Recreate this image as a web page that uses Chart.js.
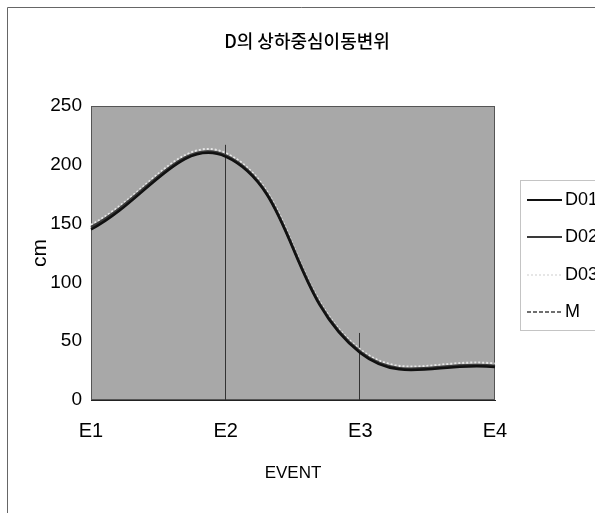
<!DOCTYPE html>
<html>
<head>
<meta charset="utf-8">
<script src="https://cdn.jsdelivr.net/npm/chart.js@4/dist/chart.umd.min.js"></script>
<style>
  html, body { margin: 0; padding: 0; background: #ffffff; }
  #wrap { width: 595px; height: 513px; position: relative; }
</style>
</head>
<body>
<div id="wrap"><canvas id="c" width="595" height="513"></canvas></div>
<script>
// ---- data ----
const chartTitle = 'D의 상하중심이동변위';
const categories = ['E1', 'E2', 'E3', 'E4'];
const seriesNames = ['D01', 'D02', 'D03', 'M'];
const d01 = [145, 207, 40, 28];
const d02 = [147, 208, 41, 29];
const d03 = [149, 210, 43, 31];
const mVals = [146, 208, 41, 29];
// tops of the vertical drop lines at E2 and E3
const dropLineTops = [null, 217, 57, null];
const yMin = 0, yMax = 250, yStep = 50;
const xTitle = 'EVENT';
const yTitle = 'cm';

const sans = '"Liberation Sans", Arial, sans-serif';

const styles = [
  { color: '#111111', dash: [], width: 2.5 },
  { color: '#3a3a3a', dash: [], width: 2.5 },
  { color: '#e6e6e6', dash: [2, 2], width: 2 },
  { color: '#6f6f6f', dash: [4, 2], width: 2 }
];
const allSeries = [d01, d02, d03, mVals];

const bgPlugin = {
  id: 'bg',
  beforeDraw(chart) {
    const { ctx, chartArea: a } = chart;
    ctx.save();
    ctx.strokeStyle = '#666666';
    ctx.lineWidth = 1;
    ctx.beginPath();
    ctx.moveTo(7.5, 513); ctx.lineTo(7.5, 7.5); ctx.lineTo(595, 7.5);
    ctx.stroke();
    ctx.fillStyle = '#a8a8a8';
    ctx.fillRect(a.left, a.top, a.right - a.left, a.bottom - a.top);
    ctx.strokeStyle = '#555555';
    ctx.strokeRect(a.left + 0.5, a.top + 0.5, a.right - a.left - 1, a.bottom - a.top - 1);
    ctx.restore();
  },
  beforeDatasetsDraw(chart) {
    const { ctx, scales: { x, y } } = chart;
    ctx.save();
    ctx.strokeStyle = '#333333';
    ctx.lineWidth = 1;
    dropLineTops.forEach((top, i) => {
      if (top === null) return;
      const px = Math.round(x.getPixelForValue(i)) - 0.5;
      ctx.beginPath();
      ctx.moveTo(px, y.getPixelForValue(top));
      ctx.lineTo(px, y.getPixelForValue(yMin));
      ctx.stroke();
    });
    ctx.restore();
  },
  afterDraw(chart) {
    const { ctx } = chart;
    ctx.save();
    ctx.fillStyle = '#000';
    ctx.font = '500 18px "Noto Sans CJK KR", sans-serif';
    ctx.textAlign = 'center';
    ctx.textBaseline = 'middle';
    ctx.fillText(chartTitle, 307, 41);
    ctx.strokeStyle = '#888888';
    ctx.lineWidth = 1;
    ctx.setLineDash([1, 1]);
    ctx.strokeRect(520.5, 180.5, 80, 150);
    ctx.setLineDash([]);
    const ys = [200, 237, 275, 312];
    chart.data.datasets.forEach((ds, i) => {
      ctx.strokeStyle = ds.borderColor;
      ctx.lineWidth = 2;
      ctx.setLineDash(ds.borderDash || []);
      ctx.beginPath();
      ctx.moveTo(527, ys[i]);
      ctx.lineTo(562, ys[i]);
      ctx.stroke();
      ctx.setLineDash([]);
      ctx.fillStyle = '#000';
      ctx.font = '18px ' + sans;
      ctx.textAlign = 'left';
      ctx.fillText(ds.label, 565, ys[i]);
    });
    ctx.restore();
  }
};

new Chart(document.getElementById('c'), {
  type: 'line',
  data: {
    labels: categories,
    datasets: allSeries.map((s, i) => ({
      label: seriesNames[i],
      data: s,
      borderColor: styles[i].color,
      borderDash: styles[i].dash,
      borderWidth: styles[i].width,
      pointRadius: 0,
      tension: 0.42,
      fill: false
    }))
  },
  options: {
    responsive: false,
    devicePixelRatio: 1,
    animation: false,
    layout: { padding: { top: 106, right: 100, left: 0, bottom: 0 } },
    plugins: {
      legend: { display: false },
      title: { display: false },
      tooltip: { enabled: false }
    },
    scales: {
      x: {
        type: 'category',
        offset: false,
        grid: { display: false, drawTicks: false },
        border: { display: true, color: '#222222', width: 1 },
        ticks: { color: '#000', font: { family: sans, size: 20 }, padding: 19, maxRotation: 0 },
        title: { display: true, text: xTitle, color: '#000', font: { family: sans, size: 17 }, padding: { top: 0, bottom: 29 } },
        afterFit(scale) { scale.height = 113; }
      },
      y: {
        min: yMin, max: yMax,
        grid: { display: false, drawTicks: false },
        border: { display: false },
        ticks: { stepSize: yStep, color: '#000', font: { family: sans, size: 19 }, padding: 9 },
        title: { display: true, text: yTitle, color: '#000', font: { family: sans, size: 21 }, padding: { top: 28, bottom: 0 } },
        afterFit(scale) { scale.width = 91; }
      }
    }
  },
  plugins: [bgPlugin]
});
</script>
</body>
</html>
